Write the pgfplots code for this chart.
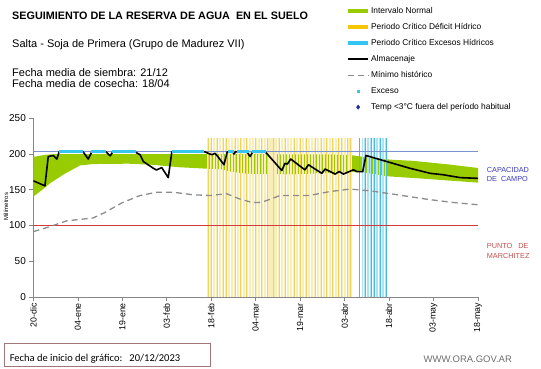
\documentclass[border=0pt]{standalone}
\usepackage{fontspec}
\setmainfont{Liberation Sans}
\newfontfamily\calibrifont{Carlito}
\usepackage{pgfplots}
\pgfplotsset{compat=1.18}
\usepgfplotslibrary{fillbetween}

\definecolor{band}{HTML}{99CC00}
\definecolor{axgray}{HTML}{868686}
\definecolor{capblue}{HTML}{7893CF}
\definecolor{pmred}{HTML}{C0504D}
\definecolor{pmline}{HTML}{D23A3A}
\definecolor{mingray}{HTML}{8C8C8C}
\definecolor{excyan}{HTML}{38C5EE}
\definecolor{ylight}{HTML}{F9EDB8}
\definecolor{ydark}{HTML}{F0D35A}
\definecolor{clight}{HTML}{AEE3F3}
\definecolor{cdark}{HTML}{45BCE2}
\definecolor{legyellow}{HTML}{F7C600}
\definecolor{legcyan}{HTML}{33C6F4}
\definecolor{tempblue}{HTML}{1F2FA0}
\definecolor{captext}{HTML}{3A3ABF}
\definecolor{boxborder}{HTML}{A07878}
\definecolor{webgray}{HTML}{6E6E6E}

\begin{document}
\begin{tikzpicture}
\begin{axis}[
 at={(0pt,0pt)}, anchor=south west,
 scale only axis, width=444.6pt, height=178.7pt,
 xmin=0, xmax=150, ymin=0, ymax=250,
 axis x line*=bottom, axis y line*=left,
 axis line style={draw=axgray, line width=0.8pt, -},
 xtick={0,15,...,150},
 xticklabels={20-dic,04-ene,19-ene,03-feb,18-feb,04-mar,19-mar,03-abr,18-abr,03-may,18-may},
 x tick label style={rotate=90, anchor=east, font=\fontsize{8.8}{9}\selectfont, inner sep=2pt},
 ytick={0,50,100,150,200,250},
 y tick label style={font=\fontsize{10}{10}\selectfont},
 tick align=outside, major tick length=4pt,
 tick style={draw=axgray, line width=0.7pt},
 /pgf/number format/assume math mode=true,
 ylabel={Milímetros},
 ylabel style={at={(axis description cs:-0.062,0.505)}, anchor=center, font=\fontsize{6}{6}\selectfont},
 legend cell align=left,
 legend image code/.code={\draw[mark repeat=2,mark phase=2,#1] plot coordinates {(0cm,0cm) (0.36cm,0cm) (0.72cm,0cm)};},
 legend style={at={(axis description cs:0.703,1.628)}, anchor=north west, draw=none, fill=none, inner sep=0pt, row sep=6.2pt, font=\fontsize{8.4}{9}\selectfont, nodes={inner sep=1pt, text height=6pt, text depth=1.8pt}},
]
% Intervalo normal (band)
\addplot[name path=up, draw=none, forget plot] coordinates {
(0,196) (4,199) (8,200) (60,200) (100,199.5) (108,198) (112,195.5) (121,192) (128,190.5) (140,185.5) (150,180.5)};
\addplot[name path=lo, draw=none, forget plot] coordinates {
(0,140.5) (3,150) (5.6,159) (10,171) (15.7,184) (20,186) (32,186.5) (40,185) (49.5,181.5) (58.5,179.5) (63,179) (67,175) (72,172.5) (80,172) (88,171.5) (96,173) (104,174) (110,175) (115,172) (119,169) (130,166) (140,163) (150,160)};
\addplot[band, forget plot] fill between[of=up and lo];

% Periodo critico deficit hidrico (daily bars)
\addplot[ycomb, color=ylight, line width=2.1pt, forget plot] coordinates {
(59,222) (60,222) (61,222) (62,222) (63,222) (64,222) (65,222) (66,222) (67,222) (68,222)
(69,222) (70,222) (71,222) (72,222) (73,222) (74,222) (75,222) (76,222) (77,222) (78,222)
(79,222) (80,222) (81,222) (82,222) (83,222) (84,222) (85,222) (86,222) (87,222) (88,222)
(89,222) (90,222) (91,222) (92,222) (93,222) (94,222) (95,222) (96,222) (97,222) (98,222)
(99,222) (100,222) (101,222) (102,222) (103,222) (104,222) (105,222) (106,222) (107,222)};
\addplot[ycomb, color=ydark, line width=0.8pt, forget plot] coordinates {
(59,222) (60,222) (62,222) (64,222) (65,222) (68,222) (70,222) (72,222) (75,222) (77,222) (79,222) (81,222) (83,222) (85,222) (88,222)
(90,222) (92,222) (95,222) (97,222) (99,222) (101,222) (103,222) (104,222) (106,222) (107,222)};
% Periodo critico excesos hidricos
\addplot[ycomb, color=clight, line width=1.8pt, forget plot] coordinates {
(110,222) (111,222) (112,222) (113,222) (114,222) (115,222) (116,222) (117,222) (118,222) (119,222)};
\addplot[ycomb, color=cdark, line width=0.9pt, forget plot] coordinates {
(110,222) (112,222) (114,222) (115,222) (117,222) (119,222)};

% Capacidad de campo y punto de marchitez
\addplot[capblue, line width=0.9pt, forget plot] coordinates {(0,203) (150,203)};
\addplot[pmline, line width=0.9pt, forget plot] coordinates {(0,100) (150,100)};

% Minimo historico
\addplot[mingray, line width=1.3pt, dash pattern=on 6pt off 4pt, forget plot] coordinates {
(0,91.5) (5.6,98.5) (11.2,106.5) (16.7,109) (20.1,110.5) (24,118) (30,132) (36,142) (41.6,146.6) (47.1,146.6) (53.9,143) (59.6,142) (65.2,144.5) (69.7,137) (74,132) (77,132.5) (80,137) (83.2,142) (93,142) (100,147.5) (106.9,151) (113.6,148.5) (121.5,143.8) (132.7,136.8) (141,132.5) (150,129)};

% Almacenaje
\addplot[black, line width=1.6pt, line join=round, forget plot] coordinates {
(0,162.5) (3.9,155.5) (5.0,196.5) (6.7,198) (7.9,193) (8.7,203) (16.8,203) (18.5,193) (19.7,203) (24.5,203) (25.9,197.5) (26.8,203) (34.3,203) (36,199) (37.1,189.5) (40.5,180) (41.5,177.7) (43.3,181) (45.5,167) (46.7,203) (57.9,203) (59,201) (60.2,199) (61.3,201) (62.5,195) (64.3,185) (65.4,203) (67.3,203) (67.7,200) (68.1,203) (72.1,203) (73.1,196.5) (74,203) (78.2,203) (78.7,201) (83.8,177) (84.9,187) (85.7,186) (86.8,193) (91.6,178) (92.8,185) (97.3,173) (98.4,179) (101.8,172) (103.2,175.5) (104.6,172) (108,178) (109.1,175.5) (111.1,175.5) (112.2,198) (119.2,189.5) (127.1,180) (133.9,173) (138.3,171) (144,167) (150,166)};

% Exceso
\addplot[only marks, mark=square*, mark size=1pt, color=excyan, forget plot] coordinates {
(9,204) (10,204) (11,204) (12,204) (13,204) (14,204) (15,204) (16,204)
(20,204) (21,204) (22,204) (23,204) (24,204)
(27,204) (28,204) (29,204) (30,204) (31,204) (32,204) (33,204) (34,204)
(47,204) (48,204) (49,204) (50,204) (51,204) (52,204) (53,204) (54,204) (55,204) (56,204) (57,204)
(66,204) (67,204) (69,204) (70,204) (71,204) (72,204)
(74,204) (75,204) (76,204) (77,204) (78,204)};

% Legend
\addlegendimage{band, line width=3.5pt}
\addlegendentry{Intervalo Normal}
\addlegendimage{legyellow, line width=3.5pt}
\addlegendentry{Periodo Crítico Déficit Hídrico}
\addlegendimage{legcyan, line width=3.5pt}
\addlegendentry{Periodo Crítico Excesos Hídricos}
\addlegendimage{black, line width=1.6pt}
\addlegendentry{Almacenaje}
\addlegendimage{mingray, line width=1.3pt, dash pattern=on 6pt off 4pt}
\addlegendentry{Mínimo histórico}
\addlegendimage{only marks, mark=square*, mark size=1pt, color=excyan}
\addlegendentry{Exceso}
\addlegendimage{only marks, mark=diamond*, mark size=2.2pt, color=tempblue}
\addlegendentry{Temp <3°C fuera del período habitual}
\end{axis}

% Titles and annotations
\node[anchor=base west, inner sep=0pt, font=\bfseries\fontsize{10.8}{12}\selectfont] at (-21.4pt,278pt) {SEGUIMIENTO DE LA RESERVA DE AGUA\ \ EN EL SUELO};
\node[anchor=base west, inner sep=0pt, font=\fontsize{11}{12}\selectfont] at (-21.4pt,249.3pt) {Salta - Soja de Primera (Grupo de Madurez VII)};
\node[anchor=base west, inner sep=0pt, font=\fontsize{11}{12}\selectfont] at (-21.4pt,221pt) {Fecha media de siembra: 21/12};
\node[anchor=base west, inner sep=0pt, font=\fontsize{11}{12}\selectfont] at (-21.4pt,209.7pt) {Fecha media de cosecha: 18/04};

\node[anchor=base west, inner sep=0pt, text=captext, font=\fontsize{7.3}{8}\selectfont] at (453.3pt,124.3pt) {CAPACIDAD};
\node[anchor=base west, inner sep=0pt, text=captext, font=\fontsize{7.3}{8}\selectfont] at (453.3pt,115.3pt) {DE\ \ CAMPO};
\node[anchor=base west, inner sep=0pt, text=pmred, font=\fontsize{7.3}{8}\selectfont] at (453.3pt,48.4pt) {PUNTO\ \ \ DE};
\node[anchor=base west, inner sep=0pt, text=pmred, font=\fontsize{7.3}{8}\selectfont] at (453.3pt,39pt) {MARCHITEZ};

\draw[boxborder, line width=0.8pt] (-29.4pt,-46.3pt) rectangle (176.6pt,-69pt);
\node[anchor=base west, inner sep=0pt, font=\calibrifont\fontsize{10.5}{12}\selectfont] at (-23.8pt,-64pt) {Fecha de inicio del gráfico:\ \ \ 20/12/2023};
\node[anchor=base west, inner sep=0pt, text=webgray, font=\fontsize{9.5}{10}\selectfont] at (390pt,-65pt) {WWW.ORA.GOV.AR};

\pgfresetboundingbox
\useasboundingbox (-33.4pt,-71pt) rectangle (507.6pt,297pt);
\end{tikzpicture}
\end{document}
